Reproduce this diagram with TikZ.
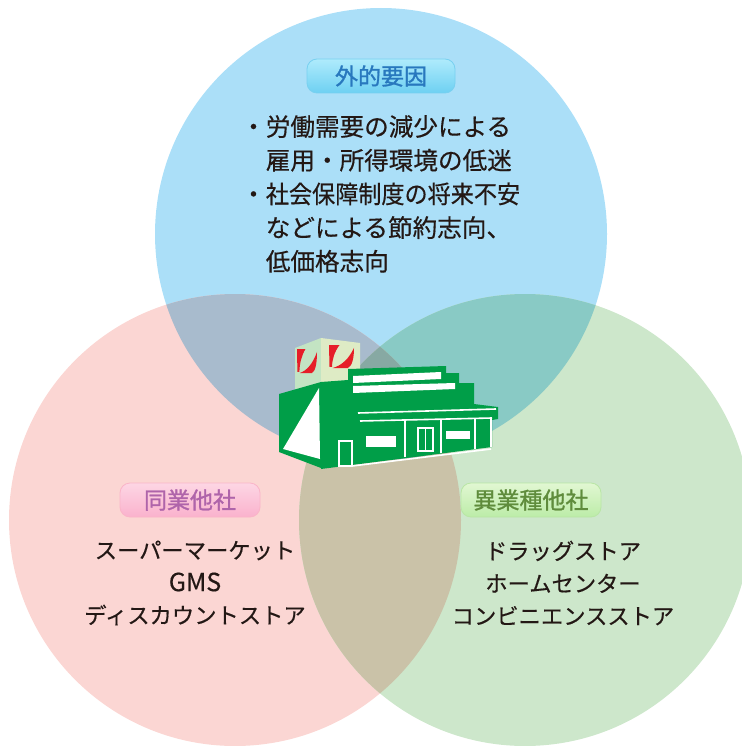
\documentclass[tikz,border=0pt]{standalone}
\usepackage{fontspec}
\usepackage{graphicx,xcolor}
\setmainfont{Noto Sans CJK JP}
\newfontfamily\tagfont[FakeBold=1.2]{Noto Sans CJK JP}
\newfontfamily\bodyfont[FakeBold=0.4]{Noto Sans CJK JP}
\usepackage{tikz}
\usetikzlibrary{positioning}
\definecolor{extc}{RGB}{171,223,248}
\definecolor{samec}{RGB}{251,214,211}
\definecolor{diffc}{RGB}{205,231,203}
\definecolor{extsame}{RGB}{168,187,205}
\definecolor{extdiff}{RGB}{137,202,197}
\definecolor{samediff}{RGB}{202,194,168}
\definecolor{allc}{RGB}{135,169,163}
\definecolor{ink}{RGB}{35,24,21}
\definecolor{shopgreen}{RGB}{0,158,72}
\definecolor{logored}{RGB}{230,30,40}
\definecolor{extink}{RGB}{40,120,190}
\definecolor{extline}{RGB}{120,208,240}
\definecolor{exttop}{RGB}{175,235,252}
\definecolor{extbot}{RGB}{110,208,242}
\definecolor{sameink}{RGB}{175,100,170}
\definecolor{sameline}{RGB}{250,180,200}
\definecolor{sametop}{RGB}{253,214,228}
\definecolor{samebot}{RGB}{250,178,205}
\definecolor{diffink}{RGB}{95,140,60}
\definecolor{diffline}{RGB}{185,230,165}
\definecolor{difftop}{RGB}{225,247,210}
\definecolor{diffbot}{RGB}{188,236,168}
\definecolor{cubeside}{RGB}{195,228,195}
\definecolor{cubefront}{RGB}{222,235,197}
\tikzset{
  tag/.style={draw, rounded corners=10pt, minimum width=140pt, minimum height=34pt,
    inner sep=0pt, line width=0.8pt, font=\tagfont\fontsize{23}{23}\selectfont},
  exttag/.style={tag, draw=extline, top color=exttop, bottom color=extbot, text=extink},
  sametag/.style={tag, draw=sameline, top color=sametop, bottom color=samebot, text=sameink},
  difftag/.style={tag, draw=diffline, top color=difftop, bottom color=diffbot, text=diffink},
  body/.style={align=center, inner sep=0pt, text=ink, font=\bodyfont\fontsize{22.3}{32.5}\selectfont},
  causes/.style={body, align=left, font=\bodyfont\fontsize{24.6}{33.7}\selectfont},
  white line/.style={draw=white, line width=1.6pt}
}
\newcommand{\rr}{226}

\begin{document}
\begin{tikzpicture}[x=1pt, y=-1pt]
  \useasboundingbox (0,0) rectangle (741,746);
  \coordinate (ctop) at (381,234);
  \coordinate (cleft) at (235,520);
  \coordinate (cright) at (525,520);

  % three circles and their overlaps
  \fill[extc] (ctop) circle[radius=\rr];
  \fill[samec] (cleft) circle[radius=\rr];
  \fill[diffc] (cright) circle[radius=\rr];
  \begin{scope}
    \clip (ctop) circle[radius=\rr];
    \fill[extsame] (cleft) circle[radius=\rr];
    \fill[extdiff] (cright) circle[radius=\rr];
  \end{scope}
  \begin{scope}
    \clip (cleft) circle[radius=\rr];
    \fill[samediff] (cright) circle[radius=\rr];
    \clip (cright) circle[radius=\rr];
    \fill[allc] (ctop) circle[radius=\rr];
  \end{scope}

  % labels and texts
  \node[exttag, minimum width=148pt] (ext) at (381,76) {外的要因};
  \node[causes, anchor=north west] (extlist) at (241,115)
    {・労働需要の減少による\\　雇用・所得環境の低迷\\・\scalebox{0.94}[1]{社会保障制度の将来不安}\\　などによる節約志向、\\　低価格志向};
  \node[sametag] (same) at (190,500) {同業他社};
  \node[body] (samelist) at (195,583) {スーパーマーケット\\{\fontsize{25}{32.5}\selectfont GMS}\\ディスカウントストア};
  \node[difftag] (diff) at (531,500) {異業種他社};
  \node[body] (difflist) at (563,583) {ドラッグストア\\ホームセンター\\コンビニエンスストア};

  % store
  \fill[cubeside] (295,348) -- (321,338) -- (321,386) -- (295,393) -- cycle;
  \fill[cubefront] (321,338) -- (360,343) -- (360,381) -- (321,386) -- cycle;
  \foreach \lx/\ly/\lw/\lh in {297/349/20/24, 329/345/25/23} {
    \begin{scope}[shift={(\lx,\ly)}, x=\lw pt, y={-\lh pt}]
      \fill[logored] (0,0) -- (0.42,0) .. controls (0.22,0.3) and (0.13,0.6) .. (0.12,0.95) -- (0.02,0.95) -- cycle;
      \fill[logored] (0.14,1) .. controls (0.5,0.9) and (0.8,0.6) .. (1,0.12) .. controls (1,0.6) and (0.92,0.92) .. (0.75,1) -- cycle;
    \end{scope}
  }
  \fill[shopgreen] (279,394) -- (321,382) -- (321,468) -- (279,452) -- cycle;
  \fill[white] (283,449) -- (319,388) -- (320,459) -- cycle;
  \fill[shopgreen] (321,382) -- (348,380) -- (348,369) -- (446,366) -- (446,373) -- (459,373) -- (459,383) -- (474,383)
    -- (474,404) -- (498,407) -- (498,419) -- (492,420) -- (492,447) -- (321,469) -- cycle;
  \fill[white] (353,376) -- (441,372) -- (441,379) -- (353,383) -- cycle;
  \fill[white] (353,386) -- (455,383) -- (455,389) -- (353,393) -- cycle;
  \draw[white line] (358,413) -- (496,409);
  \draw[white line] (360,421) -- (492,418);
  \foreach \px/\py in {405/457, 441/453, 475/449, 491/447}
    \draw[white line] (\px,419) -- (\px,\py);
  \draw[white line] (352,466) -- (491,449);
  \fill[white] (366,436) rectangle (396,447);
  \fill[white] (446,431) rectangle (470,439);
  \draw[white line] (339,441) rectangle (352,466);
  \draw[white line] (418,428) rectangle (433,451);
  \draw[white line] (425.5,428) -- (425.5,451);
\end{tikzpicture}
\end{document}
